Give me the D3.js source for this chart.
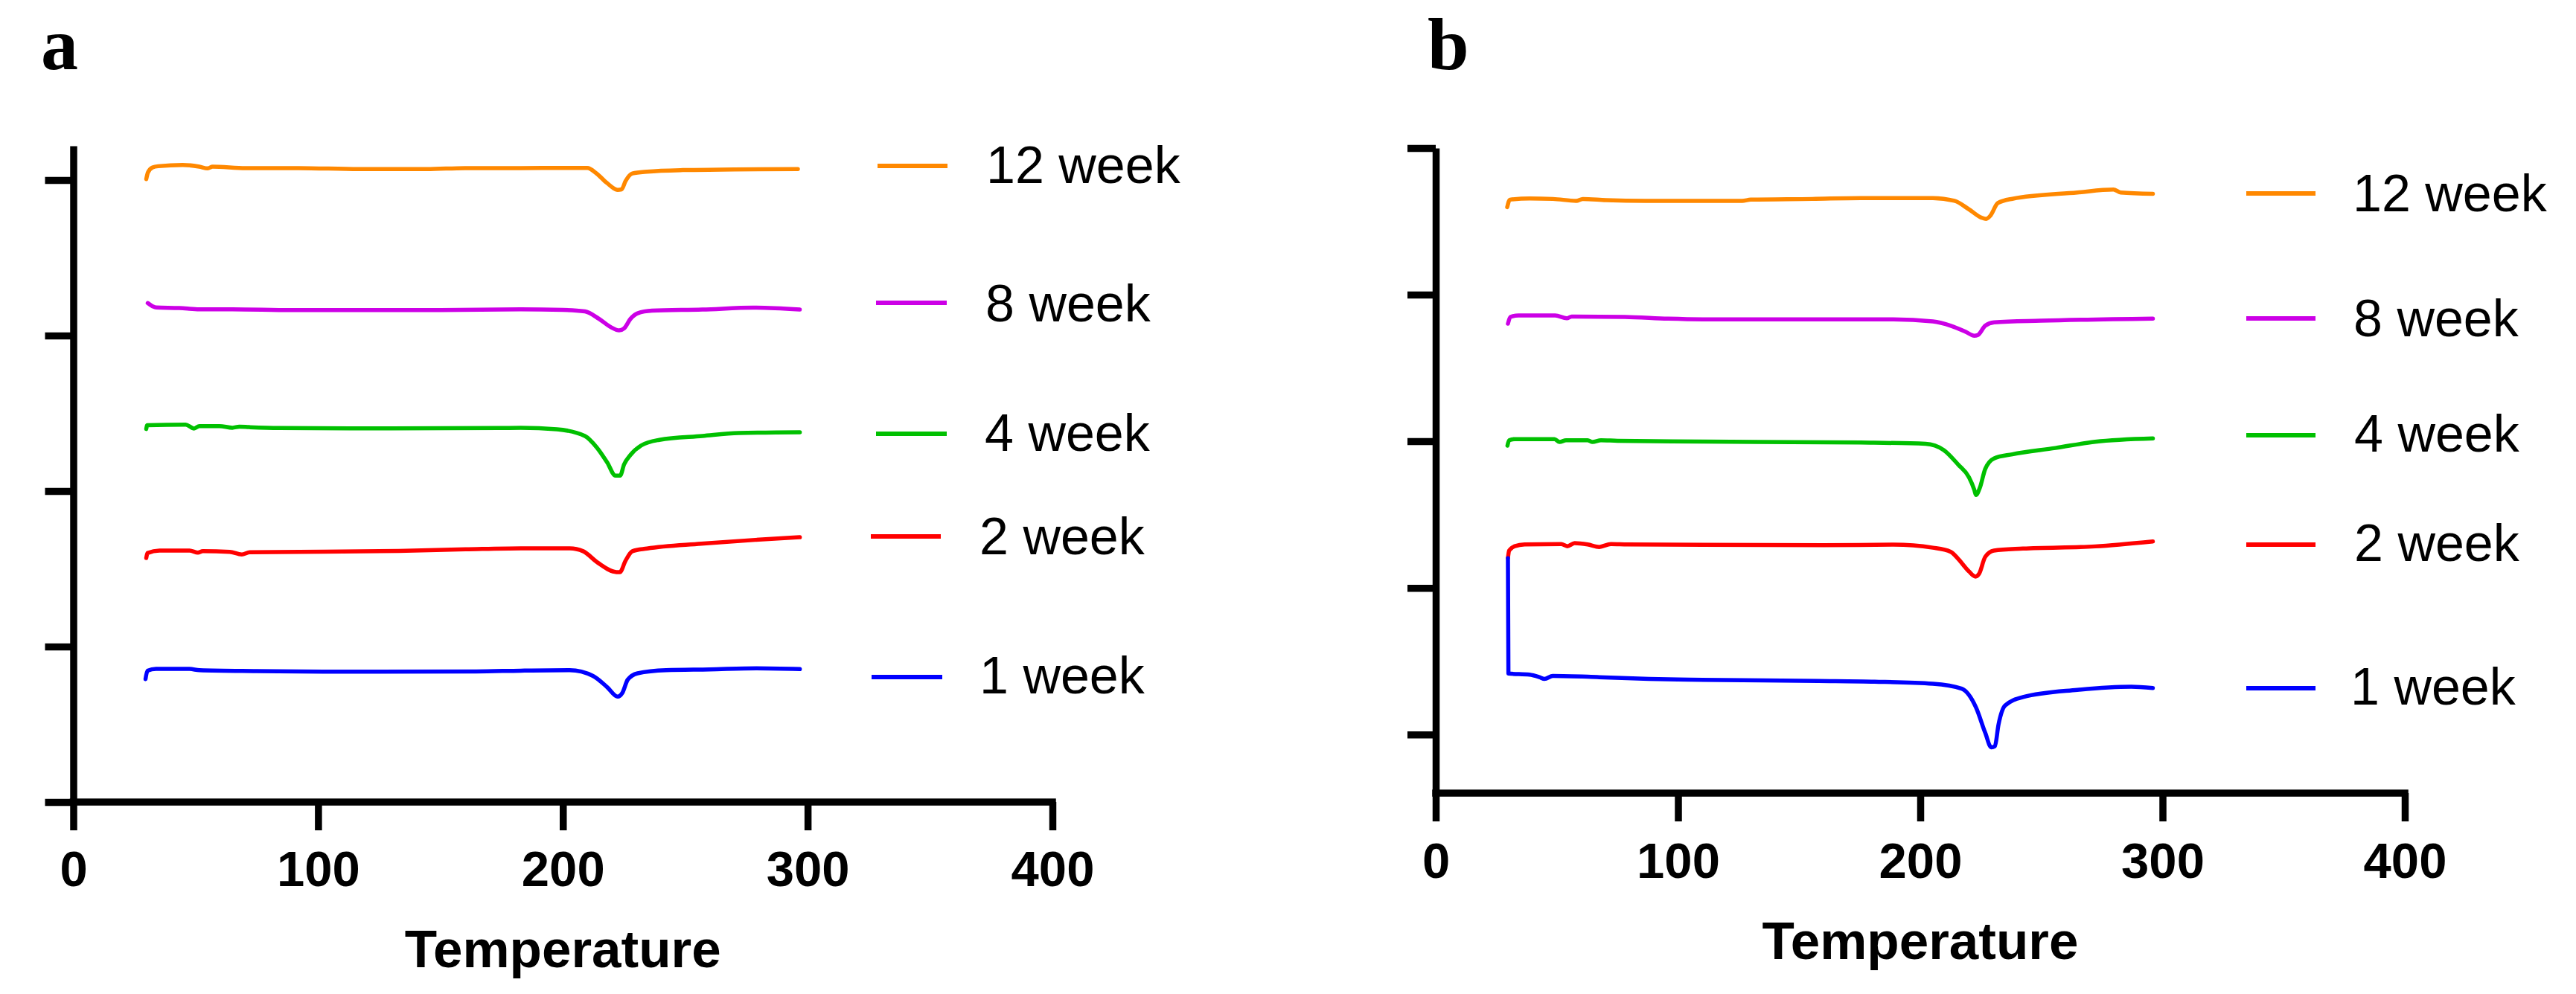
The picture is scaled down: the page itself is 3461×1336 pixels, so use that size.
<!DOCTYPE html>
<html>
<head>
<meta charset="utf-8">
<script src="https://cdn.jsdelivr.net/npm/d3@7"></script>
<style>
  html, body { margin: 0; padding: 0; background: #fff; }
  svg { display: block; }
</style>
</head>
<body>
<svg id="chart" width="3461" height="1336"></svg>
<script>
// ---------------- DATA ----------------
const xTicks = [0, 100, 200, 300, 400];
const yTicks = [0, 1, 2, 3, 4];
const seriesNames = ["12 week", "8 week", "4 week", "2 week", "1 week"];
const seriesColors = ["#ff8800", "#cc00e6", "#00c000", "#ff0000", "#0000ff"];
const panelLabels = ["a", "b"];
const xLabel = "Temperature";

// Panel a : [temperature, heat-flow offset (a.u.)]
const a12 = [[29.8,4.006],[30.5,4.049],[32.4,4.081],[34.7,4.089],[44.7,4.097],[51.5,4.086],[54.9,4.075],[56.9,4.086],[70.4,4.077],[92,4.077],[116.6,4.070],[144.4,4.070],[160,4.077],[182.8,4.077],[200,4.078],[210,4.078],[213.8,4.042],[218,3.981],[222.4,3.937],[224,3.940],[225.6,3.993],[228.4,4.042],[234.4,4.054],[249,4.064],[270,4.068],[296,4.071]];
const a8 = [[30.4,3.209],[32.4,3.188],[33.9,3.180],[43.3,3.177],[51.5,3.169],[65,3.169],[89,3.164],[112.8,3.164],[150,3.164],[182.8,3.168],[200,3.165],[209,3.155],[214.8,3.107],[219.7,3.053],[223,3.033],[225,3.046],[227.6,3.107],[230.5,3.143],[236.4,3.160],[257,3.167],[277.8,3.179],[296.8,3.167]];
const a4 = [[29.8,2.399],[30.2,2.423],[45.9,2.427],[49.3,2.402],[51.5,2.418],[59.7,2.418],[65,2.407],[67.8,2.414],[71.8,2.411],[84,2.405],[130,2.403],[174,2.405],[182.8,2.407],[197.6,2.397],[209,2.354],[213.8,2.281],[218.1,2.184],[221.5,2.099],[223.4,2.099],[225,2.171],[227.6,2.232],[232,2.293],[239.4,2.329],[257,2.354],[271.8,2.373],[296.8,2.378]];
const a2 = [[29.8,1.569],[30.3,1.601],[35.2,1.617],[47.5,1.617],[50.9,1.604],[52.9,1.614],[63.9,1.609],[68.8,1.592],[72.1,1.606],[133,1.615],[160.2,1.625],[182.8,1.632],[202.8,1.632],[208.3,1.613],[214.2,1.540],[221.9,1.479],[223.3,1.479],[225.6,1.552],[228.4,1.613],[234.4,1.630],[256.5,1.661],[278.6,1.686],[296.8,1.703]];
const a1 = [[29.5,0.791],[30.3,0.844],[33.8,0.856],[47.5,0.856],[51.5,0.848],[74.7,0.842],[104.6,0.838],[164.6,0.840],[182.8,0.845],[202.8,0.848],[212.3,0.811],[218.1,0.739],[222.4,0.678],[224.3,0.702],[226.5,0.787],[230.5,0.828],[242.2,0.848],[259.9,0.853],[279.1,0.860],[296.8,0.855]];

// Panel b
const b12 = [[29.5,3.597],[30.6,3.648],[38.8,3.656],[48.4,3.653],[58,3.640],[60.7,3.653],[70.3,3.645],[86.8,3.640],[126.5,3.640],[130,3.648],[155.4,3.653],[175.4,3.659],[205.2,3.659],[214.1,3.640],[220.1,3.582],[225.3,3.525],[227.2,3.517],[229,3.540],[232,3.625],[238,3.654],[264.8,3.697],[279.7,3.717],[282.7,3.697],[296,3.688]];
const b8 = [[29.8,2.802],[30.8,2.848],[34.2,2.858],[49.3,2.858],[54.1,2.839],[56.1,2.851],[78.1,2.848],[95.9,2.836],[113,2.831],[168.6,2.831],[188.9,2.831],[205.2,2.817],[212.6,2.788],[218.6,2.748],[222.3,2.720],[223.8,2.725],[226.8,2.788],[230.5,2.811],[249.8,2.822],[296,2.837]];
const b4 = [[29.6,1.970],[30.3,2.007],[32.6,2.015],[49,2.015],[51.1,1.995],[53.8,2.007],[62.7,2.007],[64.7,1.995],[68.2,2.007],[75,2.003],[110.7,1.998],[175.4,1.991],[202.2,1.983],[209.7,1.940],[215.7,1.840],[220.1,1.754],[222.3,1.669],[223,1.634],[224.6,1.683],[226.8,1.811],[230.4,1.883],[238,1.911],[255.8,1.954],[272.2,1.997],[296,2.020]];
const b2 = [[29.8,1.203],[30.3,1.254],[32.6,1.284],[36.7,1.296],[51.8,1.299],[54.3,1.284],[57.3,1.305],[62.7,1.296],[67.5,1.279],[72.3,1.299],[79.2,1.296],[160,1.291],[189,1.295],[205.2,1.274],[212.6,1.246],[215.7,1.197],[220.1,1.112],[222.8,1.077],[224.3,1.097],[226.8,1.211],[230.4,1.254],[242.4,1.268],[272.2,1.283],[296,1.317]];
const b1 = [[29.8,1.203],[30.0,0.416],[38.7,0.408],[42.8,0.391],[44.9,0.379],[48.3,0.399],[67.5,0.391],[88,0.379],[104.5,0.374],[157.9,0.365],[181.2,0.360],[205.2,0.346],[217.1,0.312],[223,0.184],[226.8,0.012],[229.3,-0.088],[230.8,-0.080],[232.3,0.068],[235,0.197],[242.4,0.255],[264.8,0.304],[287.1,0.326],[296,0.317]];

// ---------------- LAYOUT ----------------
const panels = [
  { label: panelLabels[0], series: [a12, a8, a4, a2, a1],
    xRange: [98.5, 1414], yDomain: [0, 4.22], yRange: [1078, 196],
    labelPos: [55, 93],
    legendLine: [[1179,1273,223],[1177,1272,407],[1177,1272,583],[1170,1264,721],[1171,1266,910]],
    legendText: [[1325,246],[1324,432],[1323,606],[1316,745],[1316,932]],
    tickLabelY: 113, titleY: 1300 },
  { label: panelLabels[1], series: [b12, b8, b4, b2, b1],
    xRange: [1929, 3231], yDomain: [-0.4, 4], yRange: [1066, 199],
    labelPos: [1918, 93],
    legendLine: [[3018,3111,260],[3018,3111,428],[3018,3111,585],[3018,3111,732],[3018,3111,925]],
    legendText: [[3161,284],[3162,452],[3163,607],[3163,754],[3158,947]],
    tickLabelY: 114, titleY: 1289 }
];

const svg = d3.select("#chart");
const AXW = 9.5;

panels.forEach(p => {
  const x = d3.scaleLinear().domain([0, 400]).range(p.xRange);
  const y = d3.scaleLinear().domain(p.yDomain).range(p.yRange);
  const g = svg.append("g");

  // curves
  const line = d3.line().x(d => x(d[0])).y(d => y(d[1])).curve(d3.curveMonotoneX);
  p.series.forEach((s, i) => {
    g.append("path").datum(s).attr("d", line)
      .attr("fill", "none").attr("stroke", seriesColors[i])
      .attr("stroke-width", 5.5).attr("stroke-linejoin", "round").attr("stroke-linecap", "round");
  });

  // y axis
  const yAxis = d3.axisLeft(y).tickValues(yTicks).tickSize(38).tickSizeOuter(0).tickFormat("");
  const ya = g.append("g").attr("transform", `translate(${p.xRange[0]},0)`).call(yAxis);
  ya.select(".domain").attr("stroke", "#000").attr("stroke-width", AXW);
  ya.selectAll(".tick line").attr("stroke", "#000").attr("stroke-width", AXW);

  // x axis
  const xAxis = d3.axisBottom(x).tickValues(xTicks).tickSize(38).tickSizeOuter(0).tickFormat(d3.format("d"));
  const xa = g.append("g").attr("transform", `translate(0,${p.yRange[0]})`).call(xAxis);
  xa.select(".domain").attr("stroke", "#000").attr("stroke-width", AXW)
    .attr("d", `M${p.xRange[0] - AXW/2},0H${p.xRange[1] + AXW/2}`);
  xa.selectAll(".tick line").attr("stroke", "#000").attr("stroke-width", AXW);
  xa.selectAll(".tick text")
    .attr("y", p.tickLabelY).attr("dy", null)
    .attr("font-family", "'Liberation Sans', Arial, sans-serif")
    .attr("font-weight", "bold").attr("font-size", 67).attr("fill", "#000");

  // axis title
  g.append("text").attr("x", x(200)).attr("y", p.titleY)
    .attr("text-anchor", "middle")
    .attr("font-family", "'Liberation Sans', Arial, sans-serif")
    .attr("font-weight", "bold").attr("font-size", 71).text(xLabel);

  // panel label
  g.append("text").attr("x", p.labelPos[0]).attr("y", p.labelPos[1])
    .attr("font-family", "'Liberation Serif', 'Times New Roman', serif")
    .attr("font-weight", "bold").attr("font-size", 100).text(p.label);

  // legend
  seriesNames.forEach((n, i) => {
    const [x1, x2, ly] = p.legendLine[i];
    g.append("line").attr("x1", x1).attr("x2", x2).attr("y1", ly).attr("y2", ly)
      .attr("stroke", seriesColors[i]).attr("stroke-width", 6);
    const [tx, ty] = p.legendText[i];
    g.append("text").attr("x", tx).attr("y", ty)
      .attr("font-family", "'Liberation Sans', Arial, sans-serif")
      .attr("font-size", 70).attr("fill", "#000").text(n);
  });
});
</script>
</body>
</html>
